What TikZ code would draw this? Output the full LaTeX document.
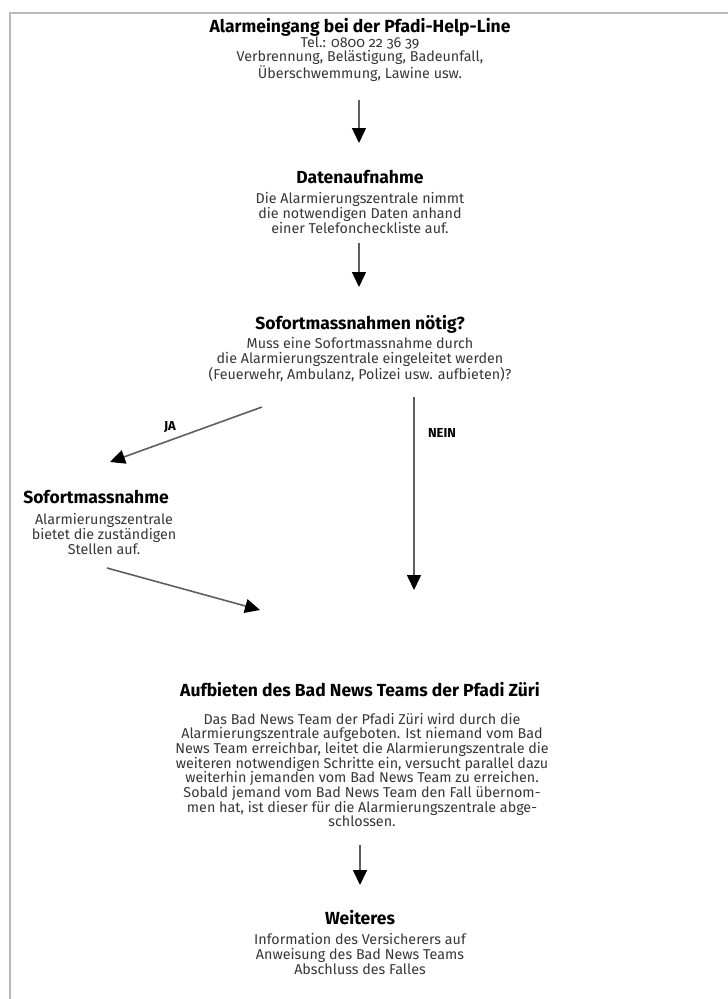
\documentclass[tikz,border=0pt]{standalone}
\usepackage{fontspec}
\setmainfont{Fira Sans}[Numbers=OldStyle]
\usetikzlibrary{arrows.meta,positioning,calc}
\definecolor{frameGray}{RGB}{185,185,185}
\definecolor{lineGray}{RGB}{95,95,95}
\definecolor{textGray}{RGB}{55,55,55}

\begin{document}
\begin{tikzpicture}[x=1pt,y=-1pt,
    blocktitle/.style={inner sep=0pt, font=\fontsize{17.5}{20}\selectfont\bfseries},
    blocktext/.style={inner sep=0pt, align=center, text=textGray, font=\fontsize{14.3}{14.7}\selectfont},
    flow/.style={-{Triangle[width=14pt,length=15pt,color=black]}, line width=1.6pt, lineGray},
    flowlabel/.style={inner sep=0pt, font=\fontsize{13}{15}\selectfont\bfseries}]
    % Page and frame
    \useasboundingbox (0,0) rectangle (728,999);
    \fill[white] (0,0) rectangle (728,999);
    \draw[frameGray, line width=2pt] (9.5,999) -- (9.5,12.5) -- (728,12.5);
    % Alarm
    \node[blocktitle] (alarmtitle) at (360,27) {Alarmeingang bei der Pfadi-Help-Line};
    \node[blocktext] (alarmtext) at (360,59) {Tel.: 0800 22 36 39\\Verbrennung, Belästigung, Badeunfall,\\Überschwemmung, Lawine usw.};
    % Datenaufnahme
    \node[blocktitle] (datentitle) at (360,177) {Datenaufnahme};
    \node[blocktext] (datentext) at (360,213) {Die Alarmierungszentrale nimmt\\die notwendigen Daten anhand\\einer Telefoncheckliste auf.};
    % Decision
    \node[blocktitle] (fragetitle) at (360,324) {Sofortmassnahmen nötig?};
    \node[blocktext] (fragetext) at (360,360) {Muss eine Sofortmassnahme durch\\die Alarmierungszentrale eingeleitet werden\\(Feuerwehr, Ambulanz, Polizei usw. aufbieten)?};
    % Sofortmassnahme
    \node[blocktitle] (soforttitle) at (96,497) {Sofortmassnahme};
    \node[blocktext] (soforttext) at (104,534) {Alarmierungszentrale\\bietet die zuständigen\\Stellen auf.};
    % Bad News Team
    \node[blocktitle] (teamtitle) at (360,690) {Aufbieten des Bad News Teams der Pfadi Züri};
    \node[blocktext] (teamtext) at (362,770) {Das Bad News Team der Pfadi Züri wird durch die\\Alarmierungszentrale aufgeboten. Ist niemand vom Bad\\News Team erreichbar, leitet die Alarmierungszentrale die\\weiteren notwendigen Schritte ein, versucht parallel dazu\\weiterhin jemanden vom Bad News Team zu erreichen.\\Sobald jemand vom Bad News Team den Fall übernom-\\men hat, ist dieser für die Alarmierungszentrale abge-\\schlossen.};
    % Weiteres
    \node[blocktitle] (weitertitle) at (360,918) {Weiteres};
    \node[blocktext] (weitertext) at (360,954) {Information des Versicherers auf\\Anweisung des Bad News Teams\\Abschluss des Falles};
    % Arrows
    \draw[flow] ([xshift=-1pt,yshift=-41pt]alarmtext.center) -- ([xshift=-1pt,yshift=34pt]datentitle.center);
    \draw[flow] ([xshift=-1pt,yshift=-30pt]datentext.center) -- ([xshift=-1pt,yshift=37pt]fragetitle.center);
    \draw[flow] ([xshift=-98pt,yshift=-47pt]fragetext.center) -- ([xshift=14pt,yshift=35pt]soforttitle.center);
    \node[flowlabel] (ja) at (170,427) {JA};
    \draw[flow] ([xshift=54pt,yshift=-37pt]fragetext.center) -- ([xshift=54pt,yshift=100pt]teamtitle.center);
    \node[flowlabel] (nein) at (442,433) {NEIN};
    \draw[flow] ([xshift=3pt,yshift=-34pt]soforttext.center) -- ([xshift=-100pt,yshift=80pt]teamtitle.center);
    \draw[flow] ([xshift=-2pt,yshift=-75pt]teamtext.center) -- ([yshift=33pt]weitertitle.center);
\end{tikzpicture}
\end{document}
